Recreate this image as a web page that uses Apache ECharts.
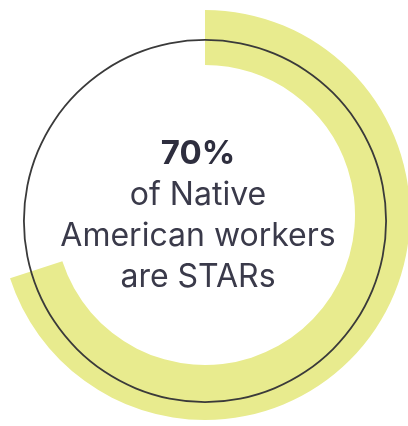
<!DOCTYPE html>
<html>
<head>
<meta charset="utf-8">
<script src="https://cdn.jsdelivr.net/npm/echarts@6/dist/echarts.min.js"></script>
<style>
html,body{margin:0;padding:0;background:#fff;}
#c{width:408px;height:426px;}
</style>
</head>
<body>
<div id="c"></div>
<script>
const categories = ['STARs', 'Not STARs'];
const values = [70, 30];
const headline = '70%';
const captionLines = ['of Native', 'American workers', 'are STARs'];

const chart = echarts.init(document.getElementById('c'), null, {renderer: 'canvas'});
const option = {
  animation: false,
  backgroundColor: '#ffffff',
  series: [
    {
      type: 'pie',
      silent: true,
      center: [205, 215],
      radius: [150, 205],
      startAngle: 90,
      clockwise: true,
      label: {show: false},
      labelLine: {show: false},
      emphasis: {disabled: true},
      data: categories.map((c, i) => ({
        name: c,
        value: values[i],
        itemStyle: {color: i === 0 ? '#e8eb8e' : 'rgba(0,0,0,0)'}
      }))
    },
    {
      type: 'pie',
      silent: true,
      center: [205, 221],
      radius: [180.2, 182],
      label: {show: false},
      labelLine: {show: false},
      emphasis: {disabled: true},
      data: [{name: 'ring', value: 100, itemStyle: {color: '#3a3a3a'}}]
    }
  ],
  graphic: [
    {
      type: 'text',
      x: 198,
      y: 138,
      style: {
        text: headline,
        font: 'bold 33px Inter, "Open Sans", sans-serif',
        fill: '#2e2e3e',
        align: 'center',
        verticalAlign: 'top'
      }
    },
    {
      type: 'text',
      x: 198,
      y: 175,
      style: {
        text: captionLines.join('\n'),
        font: '32px Inter, "Open Sans", sans-serif',
        lineHeight: 41,
        fill: '#3a3a4a',
        align: 'center',
        verticalAlign: 'top'
      }
    }
  ]
};
chart.setOption(option);
</script>
</body>
</html>
